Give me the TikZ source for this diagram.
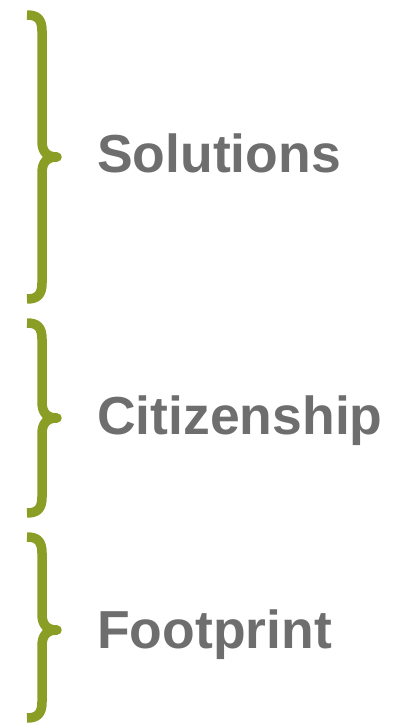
\documentclass[tikz,border=0pt]{standalone}
\usepackage{fontspec}
\setmainfont{Liberation Sans}
\usetikzlibrary{positioning}
\definecolor{braceGreen}{HTML}{8A9E25}
\definecolor{labelGray}{HTML}{6E6E6E}
% top, tip, bottom of one curly brace
\newcommand{\curlybrace}[3]{%
  \draw[curly] (27,#1) .. controls (37,#1) and (42,#1+4) .. (42,#1+16)
    -- (42,#2-16) .. controls (42,#2-5) and (47,#2) .. (57,#2)
    .. controls (47,#2) and (42,#2+5) .. (42,#2+16)
    -- (42,#3-16) .. controls (42,#3-4) and (37,#3) .. (27,#3);}

\begin{document}
\begin{tikzpicture}[x=1bp,y=-1bp,
    curly/.style={draw=braceGreen,line width=9.5bp,line join=round},
    sidelabel/.style={anchor=base west,inner sep=0pt,text=labelGray,
      font=\bfseries\fontsize{53.5bp}{62bp}\selectfont}]
  \useasboundingbox (0,0) rectangle (402,728);
  \curlybrace{15}{157}{299}
  \curlybrace{323}{418}{513}
  \curlybrace{537}{630}{718}
  \node[sidelabel] (solutions) at (97,172) {Solutions};
  \node[sidelabel] (citizenship) at (97,434) {Citizenship};
  \node[sidelabel] (footprint) at (97,648) {Footprint};
\end{tikzpicture}
\end{document}
